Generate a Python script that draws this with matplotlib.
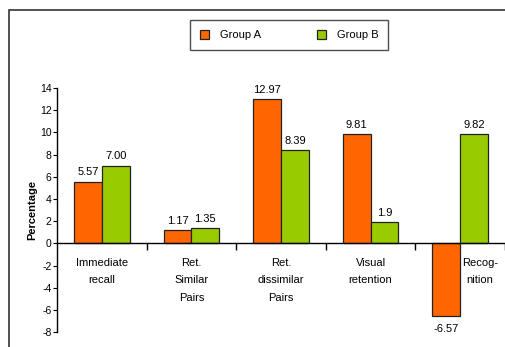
import numpy as np
import matplotlib.pyplot as plt
from matplotlib.patches import Rectangle

plt.rcParams['font.family'] = ['Liberation Sans', 'DejaVu Sans']
plt.rcParams['axes.unicode_minus'] = False

categories = ['Immediate\nrecall', 'Ret.\nSimilar\nPairs', 'Ret.\ndissimilar\nPairs',
              'Visual\nretention', 'Recog-\nnition']
group_a = [5.57, 1.17, 12.97, 9.81, -6.57]
group_b = [7.00, 1.35, 8.39, 1.9, 9.82]
labels_a = ['5.57', '1.17', '12.97', '9.81', '-6.57']
labels_b = ['7.00', '1.35', '8.39', '1.9', '9.82']
yticks = list(range(-8, 15, 2))

fig = plt.figure(figsize=(5.05, 3.47), dpi=100)
ax = fig.add_axes([0.113, 0.043, 0.887, 0.7035])

x = np.arange(len(categories)) + 0.5
w = 0.31
ba = ax.bar(x - w / 2, group_a, w, color='#FF6600', edgecolor='#222222', linewidth=0.9, label='Group A')
bb = ax.bar(x + w / 2, group_b, w, color='#99CC00', edgecolor='#222222', linewidth=0.9, label='Group B')

for rect, t in zip(ba, labels_a):
    h = rect.get_height()
    if h >= 0:
        ax.text(rect.get_x() + rect.get_width() / 2, h + 0.4, t, ha='center', va='bottom', fontsize=8)
    else:
        ax.text(rect.get_x() + rect.get_width() / 2, h - 0.7, t, ha='center', va='top', fontsize=8)
for rect, t in zip(bb, labels_b):
    h = rect.get_height()
    ax.text(rect.get_x() + rect.get_width() / 2, h + 0.4, t, ha='center', va='bottom', fontsize=8)

ax.set_xlim(0, 5)
ax.set_ylim(-8, 14)
ax.set_yticks(yticks)
ax.tick_params(axis='y', labelsize=7.5, length=3, width=0.8, pad=1)
ax.set_xticks(np.arange(1, 6))
ax.set_xticklabels([])
ax.tick_params(axis='x', direction='out', length=5, width=1)

ax.spines['bottom'].set_position(('data', 0))
ax.spines['top'].set_visible(False)
ax.spines['right'].set_visible(False)
ax.spines['left'].set_linewidth(1)
ax.spines['bottom'].set_linewidth(1)

# category names sit below the zero line; the last one is nudged right
offsets = [0, 0, 0, 0, 0.22]
for xi, lab, off in zip(x, categories, offsets):
    ax.text(xi + off, -1.3, lab, ha='center', va='top', fontsize=8, linespacing=1.95)

ax.set_ylabel('Percentage', fontsize=8, fontweight='bold', labelpad=2)

# outer chart border (runs off the right and bottom edges)
fig.patches.append(Rectangle((9 / 505, -0.1), 2, 1.1 - 10 / 347, transform=fig.transFigure,
                             fill=False, edgecolor='#333333', linewidth=1.2))

leg = fig.legend(handles=[ba, bb], loc='center', bbox_to_anchor=(0.573, 0.898), ncol=2,
                 fontsize=8, frameon=True, fancybox=False, edgecolor='#222222',
                 handlelength=0.8, handleheight=0.8, columnspacing=5.0, borderpad=0.9,
                 borderaxespad=0, handletextpad=1.0)
leg.get_frame().set_linewidth(1)

fig.savefig('out.png', dpi=100)
